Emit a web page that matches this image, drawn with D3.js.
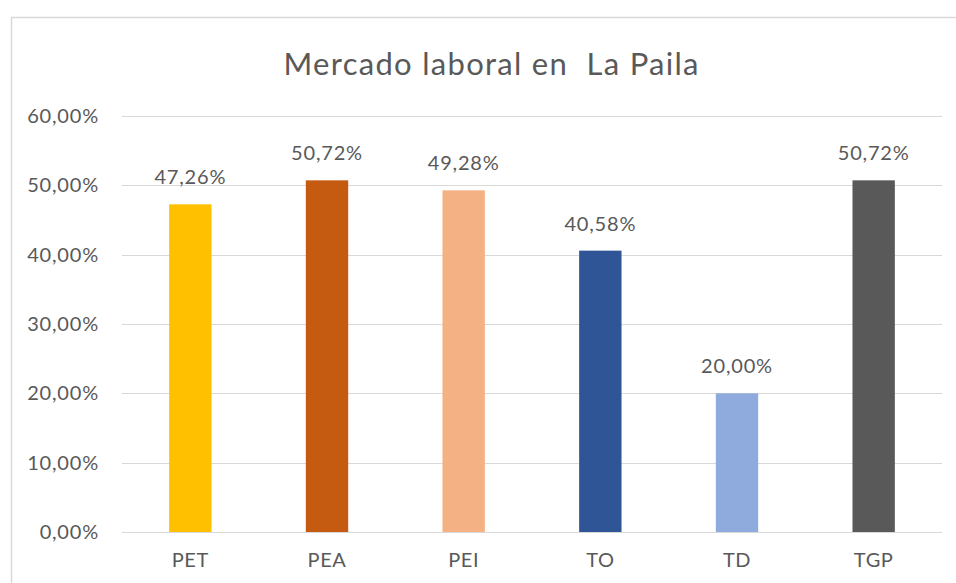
<!DOCTYPE html>
<html>
<head>
<meta charset="utf-8">
<script src="https://cdn.jsdelivr.net/npm/d3@7"></script>
<style>
  body { margin: 0; background: #fff; }
  text { font-family: Lato, "Open Sans", sans-serif; fill: #595959; }
</style>
</head>
<body>
<div id="chart"></div>
<script>
var categories = ['PET', 'PEA', 'PEI', 'TO', 'TD', 'TGP'];
var values = [47.26, 50.72, 49.28, 40.58, 20.00, 50.72];
var colors = ['#FFC000', '#C55A11', '#F4B183', '#2F5597', '#8FAADC', '#595959'];
var yTicks = [0, 10, 20, 30, 40, 50, 60];
var title = 'Mercado laboral en  La Paila';

var width = 956, height = 583;
var margin = {left: 122, right: 14, top: 116, bottom: 51};

var fmt = function(v) {
  return v.toFixed(2).replace('.', ',') + '%';
};

var svg = d3.select('#chart').append('svg')
  .attr('width', width)
  .attr('height', height);

// chart border
svg.append('rect')
  .attr('x', 11.5).attr('y', 17.5)
  .attr('width', 980).attr('height', 600)
  .attr('fill', 'none')
  .attr('stroke', '#d9d9d9')
  .attr('stroke-width', 1.5);

var x = d3.scaleBand()
  .domain(categories)
  .range([margin.left, width - margin.right])
  .paddingInner(0.69)
  .paddingOuter(0.345);

var y = d3.scaleLinear()
  .domain([0, 60])
  .range([height - margin.bottom, margin.top]);

// gridlines
svg.append('g').selectAll('line').data(yTicks).enter().append('line')
  .attr('x1', margin.left)
  .attr('x2', width - margin.right)
  .attr('y1', function(d) { return Math.round(y(d)) + 0.5; })
  .attr('y2', function(d) { return Math.round(y(d)) + 0.5; })
  .attr('stroke', '#d9d9d9')
  .attr('stroke-width', 1);

// y axis labels
var yAxis = d3.axisLeft(y).tickValues(yTicks).tickSize(0).tickPadding(23)
  .tickFormat(fmt);
var gy = svg.append('g')
  .attr('transform', 'translate(' + margin.left + ',0)')
  .call(yAxis);
gy.select('.domain').remove();
gy.selectAll('text')
  .attr('font-size', '20px')
  .attr('letter-spacing', '0.8px')
  .style('font-family', 'Lato, sans-serif')
  .attr('fill', '#595959');

// x axis labels
var xAxis = d3.axisBottom(x).tickSize(0).tickPadding(21);
var gx = svg.append('g')
  .attr('transform', 'translate(0,' + y(0) + ')')
  .call(xAxis);
gx.select('.domain').remove();
gx.selectAll('text')
  .attr('font-size', '20px')
  .attr('letter-spacing', '0.6px')
  .style('font-family', 'Lato, sans-serif')
  .attr('fill', '#595959');

// bars
svg.append('g').selectAll('rect').data(values).enter().append('rect')
  .attr('x', function(d, i) { return x(categories[i]); })
  .attr('y', function(d) { return y(d); })
  .attr('width', x.bandwidth())
  .attr('height', function(d) { return y(0) - y(d); })
  .attr('fill', function(d, i) { return colors[i]; });

// value labels
svg.append('g').selectAll('text').data(values).enter().append('text')
  .attr('x', function(d, i) { return x(categories[i]) + x.bandwidth() / 2; })
  .attr('y', function(d) { return y(d) - 20; })
  .attr('text-anchor', 'middle')
  .attr('font-size', '20px')
  .attr('letter-spacing', '0.8px')
  .text(fmt);

// title
svg.append('text')
  .attr('x', 491)
  .attr('y', 75)
  .attr('text-anchor', 'middle')
  .attr('font-size', '31px')
  .attr('textLength', 415)
  .attr('lengthAdjust', 'spacing')
  .style('white-space', 'pre')
  .text(title);
</script>
</body>
</html>
